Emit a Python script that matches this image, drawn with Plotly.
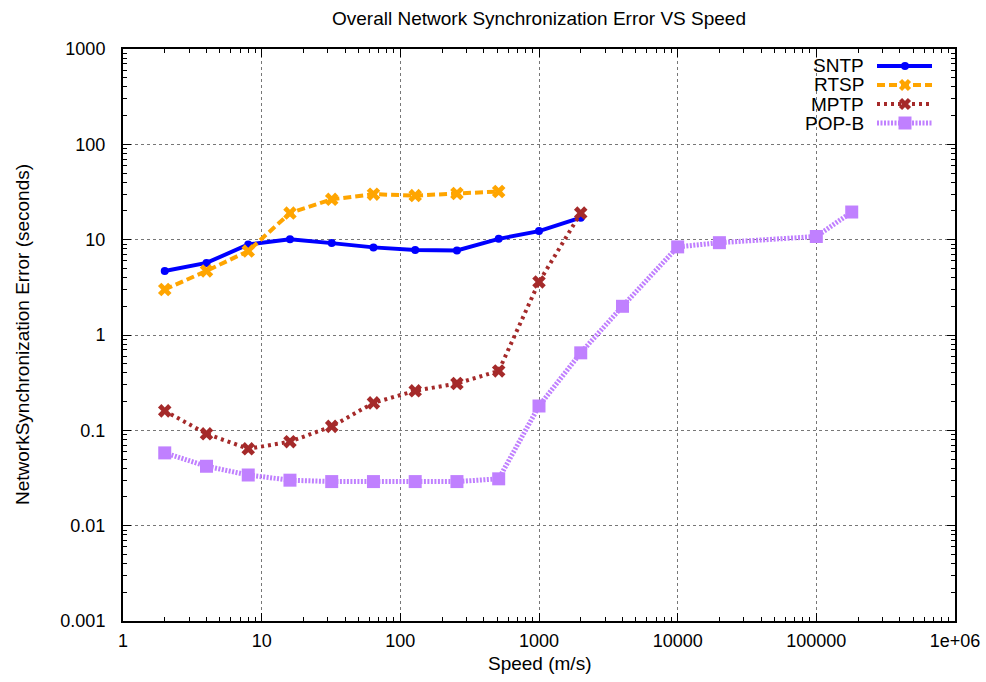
import plotly.graph_objects as go

# ---- data ----
speed_sntp = [2, 4, 8, 16, 32, 64, 128, 256, 512, 1000, 2000]
err_sntp = [4.7, 5.7, 8.9, 10.1, 9.2, 8.3, 7.8, 7.7, 10.2, 12.3, 17.0]

speed_rtsp = [2, 4, 8, 16, 32, 64, 128, 256, 512]
err_rtsp = [3.0, 4.7, 7.6, 19.0, 26.5, 30.0, 29.0, 30.5, 32.0]

speed_mptp = [2, 4, 8, 16, 32, 64, 128, 256, 512, 1000, 2000]
err_mptp = [0.16, 0.092, 0.064, 0.076, 0.11, 0.194, 0.26, 0.31, 0.42, 3.6, 19.0]

speed_popb = [2, 4, 8, 16, 32, 64, 128, 256, 512, 1000, 2000, 4000, 10000, 20000, 100000, 180000]
err_popb = [0.058, 0.042, 0.034, 0.030, 0.029, 0.029, 0.029, 0.029, 0.031, 0.18, 0.65, 2.0, 8.4, 9.3, 10.8, 19.5]

x_tickvals = [1, 10, 100, 1000, 10000, 100000, 1000000]
x_ticktext = ["1", "10", "100", "1000", "10000", "100000", "1e+06"]
y_tickvals = [0.001, 0.01, 0.1, 1, 10, 100, 1000]
y_ticktext = ["0.001", "0.01", "0.1", "1", "10", "100", "1000"]

series_names = ["SNTP", "RTSP", "MPTP", "POP-B"]
colors = ["#0000ff", "#ffa500", "#a52a2a", "#c080ff"]

FONT = "Liberation Sans, Arial, Helvetica, sans-serif"
W, H = 986, 682
L, R, T, B = 123, 31, 49, 61

fig = go.Figure()
fig.add_trace(go.Scatter(x=speed_sntp, y=err_sntp, mode="lines+markers", name="SNTP",
                         line=dict(color=colors[0], width=4),
                         marker=dict(symbol="circle", size=8, color=colors[0])))
fig.add_trace(go.Scatter(x=speed_rtsp, y=err_rtsp, mode="lines+markers", name="RTSP",
                         line=dict(color=colors[1], width=4, dash="8px,4px"),
                         marker=dict(symbol="x", size=12, color=colors[1])))
fig.add_trace(go.Scatter(x=speed_mptp, y=err_mptp, mode="lines+markers", name="MPTP",
                         line=dict(color=colors[2], width=4, dash="3px,4px"),
                         marker=dict(symbol="x", size=12, color=colors[2])))
fig.add_trace(go.Scatter(x=speed_popb, y=err_popb, mode="lines+markers", name="POP-B",
                         line=dict(color=colors[3], width=5, dash="2px,1.5px"),
                         marker=dict(symbol="square", size=13, color=colors[3])))

minor_x = [m * 10 ** k for k in range(0, 6) for m in range(2, 10)]
minor_y = [m * 10.0 ** k for k in range(-3, 3) for m in range(2, 10)]

axis_common = dict(showline=True, linecolor="black", linewidth=2, mirror="ticks",
                   ticks="inside", ticklen=8, tickwidth=1, tickcolor="black",
                   showgrid=True, gridcolor="#777777", griddash="dot", gridwidth=1,
                   zeroline=False, automargin=False,
                   tickfont=dict(family=FONT, size=18, color="black"))

fig.update_xaxes(type="log", range=[0, 6], tickmode="array", tickvals=x_tickvals, ticktext=x_ticktext,
                 minor=dict(tickmode="array", tickvals=minor_x, ticks="inside", ticklen=4,
                            tickcolor="black", showgrid=False),
                 ticklabelstandoff=2, **axis_common)
fig.update_yaxes(type="log", range=[-3, 3], tickmode="array", tickvals=y_tickvals, ticktext=y_ticktext,
                 minor=dict(tickmode="array", tickvals=minor_y, ticks="inside", ticklen=4,
                            tickcolor="black", showgrid=False),
                 ticklabelstandoff=12, **axis_common)

# ---- custom legend (text left, sample right, like gnuplot) ----
pw, ph = W - L - R, H - T - B
def px(xp):
    return (xp - L) / pw
def py(yp):
    return (H - B - yp) / ph

rows_y = [66, 85, 104, 123]
dashes = ["solid", "8px,4px", "3px,4px", "2px,1.5px"]
widths = [4, 4, 4, 5]
shapes = []
annotations = []
mx = 905
for i, (name, col, yy, ds, wd) in enumerate(zip(series_names, colors, rows_y, dashes, widths)):
    annotations.append(dict(xref="paper", yref="paper", x=px(866), y=py(yy), text=name,
                            showarrow=False, xanchor="right", yanchor="middle",
                            font=dict(family=FONT, size=19, color="black")))
    shapes.append(dict(type="line", xref="paper", yref="paper", x0=px(877), x1=px(932),
                       y0=py(yy), y1=py(yy), line=dict(color=col, width=wd, dash=ds)))
    if i == 0:
        shapes.append(dict(type="circle", xref="paper", yref="paper",
                           x0=px(mx - 4), x1=px(mx + 4), y0=py(yy - 4), y1=py(yy + 4),
                           fillcolor=col, line=dict(color=col, width=0)))
    elif i in (1, 2):
        d = 4.5
        path = (f"M {px(mx - d)} {py(yy - d)} L {px(mx + d)} {py(yy + d)} "
                f"M {px(mx - d)} {py(yy + d)} L {px(mx + d)} {py(yy - d)}")
        shapes.append(dict(type="path", xref="paper", yref="paper", path=path,
                           line=dict(color=col, width=4.5)))
    else:
        shapes.append(dict(type="rect", xref="paper", yref="paper",
                           x0=px(mx - 6.5), x1=px(mx + 6.5), y0=py(yy - 6.5), y1=py(yy + 6.5),
                           fillcolor=col, line=dict(color=col, width=0)))

# axis titles
annotations.append(dict(xref="paper", yref="paper", x=px(L + pw / 2), y=py(663),
                        text="Speed (m/s)", showarrow=False, xanchor="center", yanchor="middle",
                        font=dict(family=FONT, size=19, color="black")))
annotations.append(dict(xref="paper", yref="paper", x=px(22), y=py(T + ph / 2),
                        text="NetworkSynchronization Error (seconds)", textangle=-90,
                        showarrow=False, xanchor="center", yanchor="middle",
                        font=dict(family=FONT, size=19, color="black")))

fig.update_layout(
    width=W, height=H,
    margin=dict(l=L, r=R, t=T, b=B),
    paper_bgcolor="white", plot_bgcolor="white",
    showlegend=False,
    title=dict(text="Overall Network Synchronization Error VS Speed", x=(L + pw / 2) / W, xanchor="center",
               y=1 - 18 / H, yanchor="middle", font=dict(family=FONT, size=19, color="black")),
    shapes=shapes, annotations=annotations,
)

fig.write_html("out.html")
